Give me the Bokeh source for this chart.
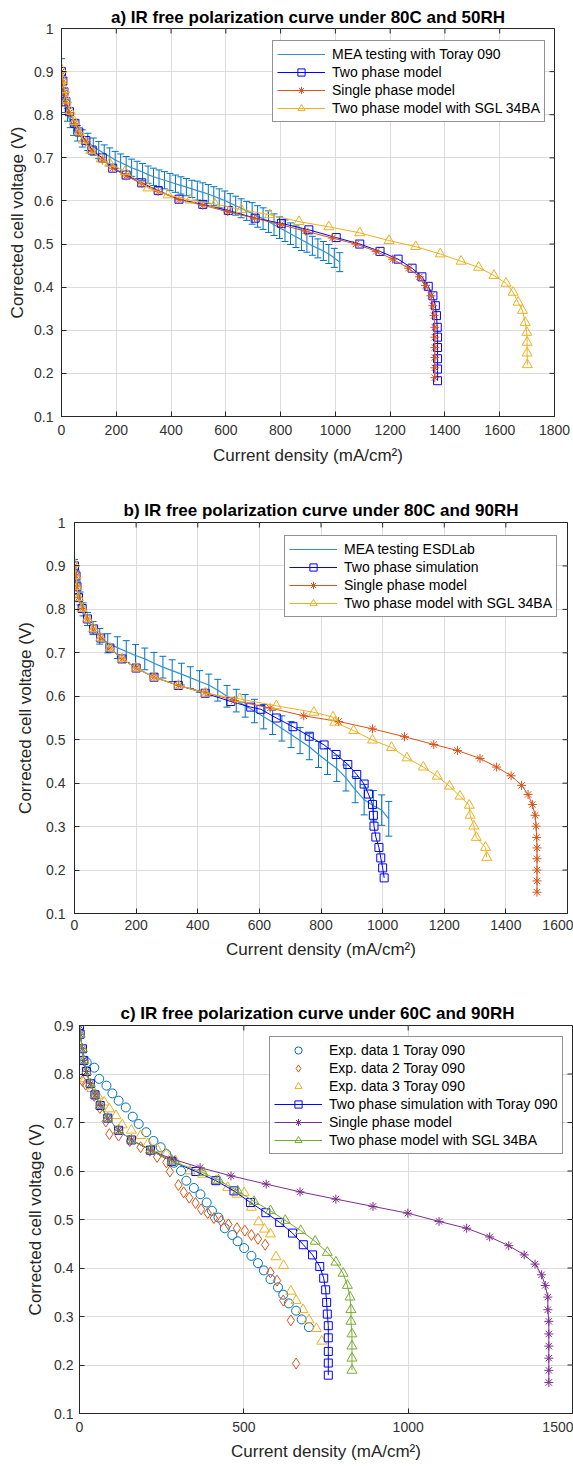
import math
from bokeh.plotting import figure
from bokeh.models import (ColumnDataSource, Range1d, FixedTicker, Legend,
                          LegendItem, Whisker, TeeHead, CustomJSTickFormatter)
from bokeh.embed import file_html
from bokeh.resources import INLINE

# ---------------- data: panel a (80C, 50RH) ----------------
a_mea_x = [0, 4, 8, 14, 22, 32, 44, 58, 76,
           96, 116, 136, 156, 176, 196, 216, 236, 256, 276,
           296, 316, 336, 356, 376, 396, 416, 436, 456, 476,
           496, 516, 536, 556, 576, 596, 616, 636, 656, 676,
           696, 716, 736, 756, 776, 796, 816, 836, 856, 876,
           896, 916, 936, 956, 976, 996, 1016]
a_mea_v = [0.900, 0.870, 0.845, 0.820, 0.800, 0.785, 0.770, 0.757, 0.745,
           0.737, 0.726, 0.718, 0.710, 0.703, 0.695, 0.689, 0.683, 0.677, 0.672,
           0.667, 0.661, 0.656, 0.652, 0.648, 0.644, 0.640, 0.636, 0.632, 0.628,
           0.624, 0.620, 0.616, 0.611, 0.606, 0.601, 0.595, 0.589, 0.583, 0.577,
           0.571, 0.564, 0.559, 0.552, 0.545, 0.538, 0.531, 0.524, 0.517, 0.510,
           0.503, 0.496, 0.490, 0.484, 0.477, 0.468, 0.458]
a_mea_err = [0.030, 0.015, 0.015, 0.015, 0.015, 0.015, 0.018, 0.018, 0.020,
             0.020, 0.020, 0.020, 0.020, 0.020, 0.020, 0.020, 0.020, 0.020, 0.020,
             0.020, 0.020, 0.020, 0.020, 0.020, 0.020, 0.020, 0.020, 0.020, 0.020,
             0.022, 0.022, 0.022, 0.022, 0.022, 0.022, 0.022, 0.022, 0.022, 0.022,
             0.025, 0.025, 0.025, 0.025, 0.025, 0.025, 0.025, 0.025, 0.025, 0.025,
             0.022, 0.022, 0.022, 0.022, 0.022, 0.022, 0.022]
a_two_x = [0, 5, 9, 16, 29, 49, 63, 89, 112, 149, 187, 236, 293, 353, 429, 516, 609, 707, 803, 903,
           1003, 1089, 1163, 1229, 1280, 1316, 1339, 1356, 1365, 1369, 1372, 1373, 1373, 1373, 1373, 1373]
a_two_v = [0.900, 0.878, 0.853, 0.830, 0.807, 0.780, 0.760, 0.740, 0.718, 0.700,
           0.676, 0.660, 0.642, 0.624, 0.604, 0.592, 0.578, 0.560, 0.548, 0.533,
           0.515, 0.500, 0.483, 0.465, 0.444, 0.424, 0.402, 0.380, 0.357, 0.334,
           0.307, 0.284, 0.260, 0.234, 0.210, 0.183]
a_one_x = [0, 5, 9, 16, 29, 49, 63, 89, 112, 149, 187, 236, 293, 353, 429, 516, 607, 705, 800, 890,
           989, 1075, 1149, 1209, 1267, 1307, 1329, 1349, 1356, 1360, 1363, 1363, 1363, 1363, 1363, 1363]
a_one_v = [0.900, 0.876, 0.850, 0.827, 0.805, 0.780, 0.758, 0.738, 0.715, 0.695,
           0.676, 0.658, 0.640, 0.622, 0.603, 0.590, 0.575, 0.560, 0.545, 0.530,
           0.514, 0.500, 0.483, 0.465, 0.444, 0.424, 0.404, 0.380, 0.357, 0.334,
           0.307, 0.284, 0.260, 0.237, 0.213, 0.190]
a_sgl_x = [0, 5, 11, 19, 32, 47, 63, 80, 107, 145, 176, 232, 316, 389, 469, 560, 656, 760, 867, 976,
           1089, 1196, 1293, 1383, 1459, 1523, 1579, 1623, 1649, 1667, 1683, 1693, 1699, 1700, 1700, 1701]
a_sgl_v = [0.905, 0.880, 0.858, 0.834, 0.808, 0.784, 0.760, 0.741, 0.717, 0.697,
           0.687, 0.668, 0.630, 0.614, 0.602, 0.593, 0.580, 0.568, 0.552, 0.540,
           0.526, 0.508, 0.494, 0.477, 0.460, 0.446, 0.427, 0.409, 0.388, 0.365,
           0.346, 0.318, 0.295, 0.272, 0.247, 0.220]

# ---------------- data: panel b (80C, 90RH) ----------------
b_mea_x = [0, 5, 10, 18, 28, 42, 60, 82, 108, 139,
           168, 198, 228, 258, 287, 317, 347, 376, 406, 436,
           465, 495, 525, 554, 584, 614, 643, 673, 703, 732,
           762, 792, 821, 851, 881, 911, 940, 970, 997, 1020]
b_mea_v = [0.900, 0.875, 0.850, 0.825, 0.800, 0.778, 0.757, 0.738, 0.722, 0.712,
           0.703, 0.694, 0.686, 0.676, 0.667, 0.659, 0.651, 0.643, 0.634, 0.626,
           0.614, 0.600, 0.590, 0.578, 0.566, 0.553, 0.540, 0.526, 0.512, 0.498,
           0.484, 0.466, 0.450, 0.434, 0.412, 0.385, 0.362, 0.348, 0.338, 0.318]
b_mea_err = [0.015, 0.015, 0.015, 0.015, 0.015, 0.015, 0.015, 0.018, 0.022, 0.025,
             0.025, 0.025, 0.025, 0.025, 0.025, 0.025, 0.025, 0.025, 0.025, 0.025,
             0.025, 0.025, 0.026, 0.026, 0.027, 0.028, 0.028, 0.029, 0.030, 0.030,
             0.030, 0.030, 0.030, 0.030, 0.030, 0.030, 0.035, 0.035, 0.035, 0.040]
b_two_x = [0, 5, 8, 13, 25, 42, 62, 85, 115, 154, 200, 258, 337, 424, 507, 572, 605, 655, 709, 762,
           810, 849, 887, 916, 940, 954, 967, 970, 972, 978, 988, 994, 1000, 1005]
b_two_v = [0.900, 0.877, 0.852, 0.827, 0.802, 0.778, 0.755, 0.734, 0.711, 0.686,
           0.665, 0.644, 0.625, 0.607, 0.588, 0.575, 0.570, 0.550, 0.530, 0.508,
           0.488, 0.466, 0.443, 0.420, 0.398, 0.375, 0.351, 0.326, 0.301, 0.276,
           0.252, 0.228, 0.205, 0.182]
b_one_x = [0, 5, 8, 13, 25, 42, 62, 85, 115, 154, 200, 258, 337, 424, 519, 635, 744, 857, 967, 1071,
           1166, 1243, 1316, 1370, 1417, 1451, 1472, 1486, 1495, 1498, 1500, 1501, 1501, 1501, 1501, 1501]
b_one_v = [0.900, 0.877, 0.852, 0.827, 0.802, 0.778, 0.755, 0.734, 0.711, 0.686,
           0.665, 0.644, 0.625, 0.609, 0.590, 0.573, 0.555, 0.542, 0.525, 0.507,
           0.489, 0.475, 0.457, 0.437, 0.417, 0.395, 0.374, 0.351, 0.326, 0.301,
           0.275, 0.251, 0.226, 0.200, 0.175, 0.149]
b_sgl_x = [0, 5, 8, 13, 25, 42, 62, 85, 115, 154, 200, 258, 337, 424, 536, 655, 777, 839, 845, 906,
           967, 1029, 1079, 1132, 1177, 1217, 1251, 1281, 1284, 1296, 1304, 1334, 1338]
b_sgl_v = [0.905, 0.877, 0.852, 0.827, 0.802, 0.778, 0.755, 0.734, 0.711, 0.686,
           0.665, 0.644, 0.625, 0.607, 0.594, 0.578, 0.563, 0.552, 0.540, 0.521,
           0.499, 0.482, 0.458, 0.437, 0.416, 0.393, 0.370, 0.349, 0.326, 0.301,
           0.275, 0.252, 0.229]

# ---------------- data: panel c (60C, 90RH) ----------------
c_exp1_x = [22, 45, 60, 82, 100, 119, 141, 162, 180, 203, 225, 247, 264, 287, 309, 325, 348, 368,
            387, 403, 423, 442, 465, 481, 501, 523, 543, 561, 581, 604, 620, 637, 659, 676, 698]
c_exp1_v = [0.824, 0.813, 0.790, 0.776, 0.760, 0.745, 0.731, 0.712, 0.697, 0.680,
            0.662, 0.649, 0.635, 0.617, 0.600, 0.580, 0.565, 0.552, 0.535, 0.518,
            0.504, 0.482, 0.468, 0.455, 0.441, 0.425, 0.410, 0.395, 0.377, 0.360,
            0.345, 0.327, 0.312, 0.294, 0.278]
c_exp2_x = [9, 19, 45, 62, 80, 91, 119, 153, 186, 214, 236, 264, 275, 301, 317, 334, 353, 370,
            390, 409, 431, 453, 479, 503, 523, 543, 565, 581, 601, 620, 643, 659]
c_exp2_v = [0.786, 0.778, 0.755, 0.730, 0.702, 0.676, 0.673, 0.662, 0.649, 0.642,
            0.629, 0.618, 0.599, 0.571, 0.556, 0.545, 0.534, 0.521, 0.513, 0.503,
            0.497, 0.490, 0.482, 0.477, 0.468, 0.460, 0.448, 0.391, 0.374, 0.333,
            0.292, 0.203]
c_exp3_x = [17, 38, 56, 75, 91, 111, 130, 158, 186, 208, 236, 264, 292, 336, 375, 415, 451, 479,
            501, 523, 545, 563, 581, 598, 621, 643, 659, 680, 698, 721, 737]
c_exp3_v = [0.790, 0.770, 0.755, 0.742, 0.728, 0.714, 0.695, 0.684, 0.673, 0.656,
            0.645, 0.635, 0.621, 0.600, 0.593, 0.580, 0.566, 0.552, 0.555, 0.525,
            0.495, 0.480, 0.470, 0.423, 0.405, 0.352, 0.333, 0.314, 0.293, 0.275,
            0.249]
c_two_x = [0, 2, 9, 13, 21, 33, 47, 63, 86, 119, 158, 216, 281, 354, 415, 470, 520, 567, 609, 648,
           681, 709, 731, 743, 749, 752, 754, 757, 757, 757, 757, 757]
c_two_v = [0.900, 0.882, 0.852, 0.828, 0.805, 0.780, 0.757, 0.735, 0.709, 0.684,
           0.664, 0.643, 0.620, 0.599, 0.580, 0.559, 0.535, 0.514, 0.494, 0.472,
           0.448, 0.427, 0.403, 0.379, 0.355, 0.329, 0.305, 0.281, 0.256, 0.228,
           0.204, 0.179]
c_one_x = [0, 2, 9, 13, 21, 33, 47, 63, 86, 119, 158, 216, 281, 367, 461, 568, 671, 780, 893, 999,
           1094, 1178, 1248, 1306, 1353, 1386, 1406, 1417, 1425, 1425, 1428, 1428, 1428, 1428, 1428, 1428]
c_one_v = [0.900, 0.882, 0.852, 0.828, 0.805, 0.780, 0.757, 0.735, 0.709, 0.684,
           0.664, 0.643, 0.625, 0.607, 0.590, 0.573, 0.557, 0.542, 0.527, 0.513,
           0.496, 0.482, 0.464, 0.446, 0.427, 0.408, 0.386, 0.364, 0.340, 0.314,
           0.290, 0.264, 0.239, 0.214, 0.189, 0.164]
c_sgl_x = [0, 2, 9, 13, 21, 33, 47, 63, 86, 119, 158, 216, 281, 375, 423, 481, 531, 581, 626, 673,
           717, 754, 780, 802, 815, 823, 826, 826, 829, 829, 829, 829]
c_sgl_v = [0.905, 0.882, 0.852, 0.828, 0.805, 0.780, 0.757, 0.735, 0.709, 0.684,
           0.664, 0.643, 0.620, 0.597, 0.581, 0.559, 0.537, 0.518, 0.498, 0.477,
           0.455, 0.432, 0.412, 0.389, 0.364, 0.340, 0.314, 0.290, 0.264, 0.239,
           0.214, 0.189]

# ---------------- labels / ticks ----------------
titles = ["a) IR free polarization curve under 80C and 50RH",
          "b) IR free polarization curve under 80C and 90RH",
          "c) IR free polarization curve under 60C and 90RH"]
legend_a = ["MEA testing with Toray 090", "Two phase model", "Single phase model",
            "Two phase model with SGL 34BA"]
legend_b = ["MEA testing ESDLab", "Two phase simulation", "Single phase model",
            "Two phase model with SGL 34BA"]
legend_c = ["Exp. data 1 Toray 090", "Exp. data 2 Toray 090", "Exp. data 3 Toray 090",
            "Two phase simulation with Toray 090", "Single phase model",
            "Two phase model with SGL 34BA"]
x_label = "Current density (mA/cm\u00b2)"
y_label = "Corrected cell voltage (V)"
xt_a = [0, 200, 400, 600, 800, 1000, 1200, 1400, 1600, 1800]
xt_b = [0, 200, 400, 600, 800, 1000, 1200, 1400, 1600]
xt_c = [0, 500, 1000, 1500]
yt_ab = [0.1, 0.2, 0.3, 0.4, 0.5, 0.6, 0.7, 0.8, 0.9, 1.0]
yt_c = [0.1, 0.2, 0.3, 0.4, 0.5, 0.6, 0.7, 0.8, 0.9]

FONT = "Liberation Sans"
AX = "#262626"
BLUE = "#0072BD"
MEA_LINE = "#3592d2"
PURE = "#0000FF"
ORANGE = "#D95319"
YELLOW = "#EDB120"
PURPLE = "#7E2F8E"
GREEN = "#77AC30"

yfmt = "return String(Math.round(tick*10)/10);"


def make_fig(height, xr, yr, xt, yt, title, bl, br, bt, bb, tstd,
             xls, xlab_std, yls, ylab_std, title_align="center", title_offset=0):
    p = figure(width=573, height=height, x_range=Range1d(*xr), y_range=Range1d(*yr),
               output_backend="svg", toolbar_location=None,
               min_border_left=bl, min_border_right=br, min_border_top=bt, min_border_bottom=bb,
               background_fill_color="white", border_fill_color="white")
    p.title.text = title
    p.title.align = title_align
    p.title.offset = title_offset
    p.title.text_font = FONT
    p.title.text_font_size = "17px"
    p.title.text_font_style = "bold"
    p.title.text_color = "#000000"
    p.title.standoff = tstd
    p.outline_line_color = AX
    p.outline_line_width = 1
    p.outline_line_alpha = 1

    p.xaxis.ticker = FixedTicker(ticks=xt)
    p.yaxis.ticker = FixedTicker(ticks=yt)
    p.yaxis.formatter = CustomJSTickFormatter(code=yfmt)
    for ax in (p.xaxis[0], p.yaxis[0]):
        ax.major_tick_in = 5
        ax.major_tick_out = 0
        ax.minor_tick_in = 0
        ax.minor_tick_out = 0
        ax.axis_line_color = AX
        ax.major_tick_line_color = AX
        ax.major_label_text_font = FONT
        ax.major_label_text_font_size = "14px"
        ax.major_label_text_color = "#333333"
        ax.axis_label_text_font = FONT
        ax.axis_label_text_font_size = "17px"
        ax.axis_label_text_font_style = "normal"
        ax.axis_label_text_color = "#262626"
    p.xaxis.axis_label = x_label
    p.yaxis.axis_label = y_label
    p.xaxis.major_label_standoff = xls
    p.xaxis.axis_label_standoff = xlab_std
    p.yaxis.major_label_standoff = yls
    p.yaxis.axis_label_standoff = ylab_std

    p.xgrid.ticker = FixedTicker(ticks=xt)
    p.ygrid.ticker = FixedTicker(ticks=yt)
    p.grid.grid_line_color = "#dcdcdc"
    p.grid.grid_line_width = 1

    # inward tick marks on the top and right edges of the box (MATLAB style)
    p.scatter(x=xt, y=[yr[1]] * len(xt), marker="dash", angle=math.pi / 2, size=10,
              line_color=AX, line_width=1)
    p.scatter(x=[xr[1]] * len(yt), y=yt, marker="dash", size=10,
              line_color=AX, line_width=1)
    return p


def series(p, xs, ys, color, marker, size, line=True, lw=1):
    src = ColumnDataSource(dict(x=xs, y=ys))
    rs = []
    if line:
        rs.append(p.line("x", "y", source=src, line_color=color, line_width=lw))
    rs.append(p.scatter("x", "y", source=src, marker=marker, size=size, fill_color=None,
                        line_color=color, line_width=1))
    return rs


def errorbars(p, xs, ys, errs):
    src = ColumnDataSource(dict(x=xs, y=ys,
                                lower=[v - e for v, e in zip(ys, errs)],
                                upper=[v + e for v, e in zip(ys, errs)]))
    w = Whisker(source=src, base="x", lower="lower", upper="upper",
                line_color=BLUE, line_width=1,
                upper_head=TeeHead(size=7, line_color=BLUE, line_width=1),
                lower_head=TeeHead(size=7, line_color=BLUE, line_width=1))
    p.add_layout(w)
    r = p.line("x", "y", source=src, line_color=MEA_LINE, line_width=1.2)
    return [r]


def add_legend(p, labels, renderers, loc):
    items = [LegendItem(label=l, renderers=r) for l, r in zip(labels, renderers)]
    lg = Legend(items=items, location=loc, orientation="vertical",
                border_line_color=AX, border_line_width=1, background_fill_color="white",
                background_fill_alpha=1, label_text_font=FONT, label_text_font_size="14px",
                label_text_color="#000000", glyph_width=48, glyph_height=18, label_height=18,
                label_standoff=7, padding=4, spacing=0, margin=0)
    p.add_layout(lg, "center")


# ---------------- panel a ----------------
pa = make_fig(490, (0, 1800), (0.1, 1.0), xt_a, yt_ab, titles[0],
              61, 19, 28, 74, 3, 8, 8, 8, 4)
ra0 = errorbars(pa, a_mea_x, a_mea_v, a_mea_err)
ra1 = series(pa, a_two_x, a_two_v, PURE, "square", 8)
ra2 = series(pa, a_one_x, a_one_v, ORANGE, "asterisk", 9)
ra3 = series(pa, a_sgl_x, a_sgl_v, YELLOW, "triangle", 10)
add_legend(pa, legend_a, [ra0, ra1, ra2, ra3], (211, 294))

# ---------------- panel b ----------------
pb = make_fig(490, (0, 1600), (0.1, 1.0), xt_b, yt_ab, titles[1],
              74, 6, 32, 67, 5, 6, 7, 9, 8)
rb0 = errorbars(pb, b_mea_x, b_mea_v, b_mea_err)
rb1 = series(pb, b_two_x, b_two_v, PURE, "square", 8)
rb2 = series(pb, b_one_x, b_one_v, ORANGE, "asterisk", 9)
rb3 = series(pb, b_sgl_x, b_sgl_v, YELLOW, "triangle", 10)
add_legend(pb, legend_b, [rb0, rb1, rb2, rb3], (210, 296))

# ---------------- panel c ----------------
pc = make_fig(489, (0, 1500), (0.1, 0.9), xt_c, yt_c, titles[2],
              79, 1, 45, 56, 6, 8, 7, 6, 6, title_align="left", title_offset=41)
rc0 = series(pc, c_exp1_x, c_exp1_v, BLUE, "circle", 9, line=False)
rc1 = series(pc, c_exp2_x, c_exp2_v, ORANGE, "diamond", 11, line=False)
rc2 = series(pc, c_exp3_x, c_exp3_v, YELLOW, "triangle", 10, line=False)
rc3 = series(pc, c_two_x, c_two_v, PURE, "square", 8)
rc4 = series(pc, c_one_x, c_one_v, PURPLE, "asterisk", 9)
rc5 = series(pc, c_sgl_x, c_sgl_v, GREEN, "triangle", 10)
add_legend(pc, legend_c, [rc0, rc1, rc2, rc3, rc4, rc5], (190, 259))

open("out.html", "w").write(file_html([pa, pb, pc], INLINE))
